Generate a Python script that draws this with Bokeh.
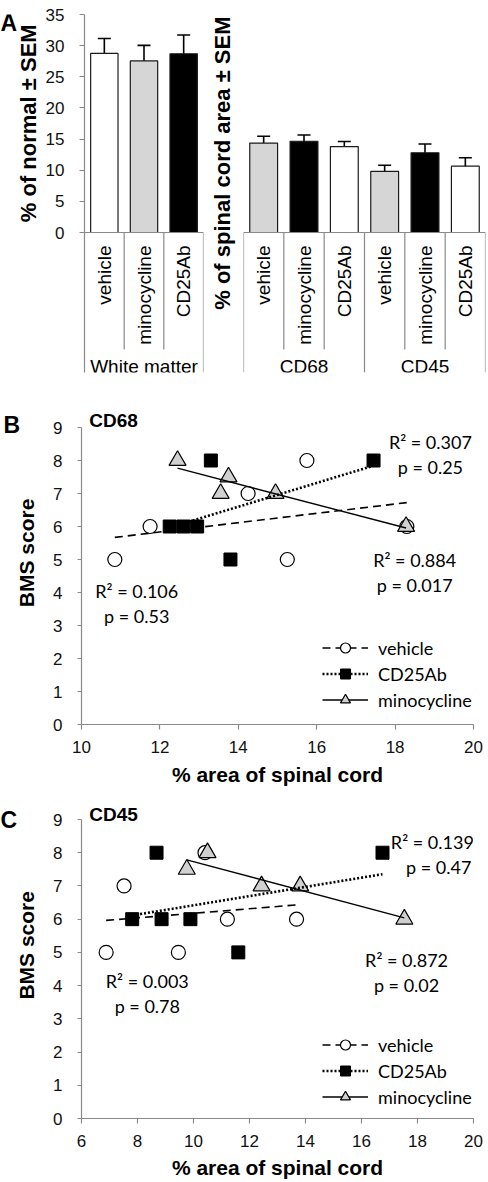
import numpy as np
from bokeh.plotting import figure
from bokeh.models import (ColumnDataSource, FactorRange, Range1d, Whisker, TeeHead,
                          Span, Label, FixedTicker, Legend, LegendItem)
from bokeh.layouts import column, row
from bokeh.embed import file_html
from bokeh.resources import INLINE
from bokeh.core.properties import value

# ---------------- data ----------------
treatments = ["vehicle", "minocycline", "CD25Ab"]
wm_group = "White matter"
wm_mean = [28.75, 27.55, 28.7]
wm_sem = [2.4, 2.5, 3.0]

area_groups = ["CD68", "CD45"]
area_mean = [14.35, 14.65, 13.8, 9.8, 12.8, 10.65]
area_sem = [1.1, 1.0, 0.8, 1.0, 1.4, 1.35]

# Panel B (CD68)
cd68_vehicle_x = [10.85, 11.75, 14.25, 15.25, 15.75, 18.3]
cd68_vehicle_y = [5, 6, 7, 5, 8, 6]
cd68_cd25_x = [12.25, 12.6, 12.95, 13.3, 13.8, 17.45]
cd68_cd25_y = [6, 6, 6, 8, 5, 8]
cd68_mino_x = [12.45, 13.55, 13.75, 14.95, 18.28]
cd68_mino_y = [8, 7, 7.5, 7, 6]
cd68_vehicle_stats = ["R² = 0.106", "p = 0.53"]
cd68_cd25_stats = ["R² = 0.307", "p = 0.25"]
cd68_mino_stats = ["R² = 0.884", "p = 0.017"]

# Panel C (CD45)
cd45_vehicle_x = [6.88, 7.52, 9.46, 10.41, 11.21, 13.68]
cd45_vehicle_y = [5, 7, 5, 8, 6, 6]
cd45_cd25_x = [7.81, 8.68, 8.86, 9.89, 11.6, 16.75]
cd45_cd25_y = [6, 8, 6, 6, 5, 8]
cd45_mino_x = [9.76, 10.5, 12.43, 13.81, 17.53]
cd45_mino_y = [7.5, 8, 7, 7, 6]
cd45_vehicle_stats = ["R² = 0.003", "p = 0.78"]
cd45_cd25_stats = ["R² = 0.139", "p = 0.47"]
cd45_mino_stats = ["R² = 0.872", "p = 0.02"]

series_names = ["vehicle", "CD25Ab", "minocycline"]

# ---------------- style ----------------
ARIAL = "Liberation Sans"
CALIBRI = "Lato"
AXIS_GRAY = "#898989"
LIGHT = "#d6d6d6"
EDGE = "#1a1a1a"
TICK_FONT = "17px"


def base_style(p):
    p.outline_line_color = None
    p.grid.visible = False
    p.background_fill_color = "white"
    p.border_fill_color = "white"


def style_axis(ax, tick_out, standoff):
    ax.axis_line_color = AXIS_GRAY
    ax.axis_line_width = 1.2
    ax.major_tick_line_color = AXIS_GRAY
    ax.major_tick_line_width = 1.2
    ax.minor_tick_line_color = None
    ax.major_tick_out = tick_out
    ax.major_tick_in = 0
    ax.major_label_standoff = standoff
    ax.major_label_text_font = ARIAL
    ax.major_label_text_font_size = TICK_FONT
    ax.major_label_text_color = "#111111"


def text_strip(width, height, texts):
    """A blank figure whose frame is its whole canvas, holding free text."""
    p = figure(width=width, height=height, x_range=Range1d(0, width),
               y_range=Range1d(height, 0), x_axis_location=None, y_axis_location=None,
               toolbar_location=None, output_backend="svg", title=None, min_border=0)
    base_style(p)
    for t in texts:
        p.add_layout(Label(**t))
    return p


def bold(text, x, y, size, angle=0.0, align="center"):
    return dict(x=x, y=y, text=text, angle=angle, text_font=ARIAL, text_font_style="bold",
                text_font_size=size, text_align=align, text_baseline="middle",
                text_color="black")


# ---------------- Panel A ----------------
A_HEIGHT = 395
A_TOP, A_ZERO, A_BOTTOM, A_INNER = 14, 232, 372, 349   # pixel rows of 35, 0, box bottom
Y_TOP = 35
PXU = (A_ZERO - A_TOP) / Y_TOP
Y_BOTTOM = -(A_BOTTOM - A_ZERO) / PXU
INNER_BOTTOM = -(A_INNER - A_ZERO) / PXU


def bar_panel(groups, means, sems, colors, width, min_left, min_right, show_axis):
    factors = [(g, t) for g in groups for t in treatments]
    xr = FactorRange(factors=factors, factor_padding=0, group_padding=0,
                     subgroup_padding=0, range_padding=0)
    p = figure(width=width, height=A_HEIGHT, x_range=xr, y_range=Range1d(Y_BOTTOM, Y_TOP),
               x_axis_location=None, y_axis_location="left" if show_axis else None,
               toolbar_location=None, output_backend="svg", title=None,
               min_border_left=min_left, min_border_right=min_right,
               min_border_top=A_TOP, min_border_bottom=A_HEIGHT - A_BOTTOM)
    base_style(p)
    src = ColumnDataSource(dict(
        x=factors, top=means,
        upper=[m + s for m, s in zip(means, sems)],
        lower=[m - s for m, s in zip(means, sems)],
        color=colors, label=[t for g in groups for t in treatments]))
    p.vbar(x="x", top="top", width=0.69, source=src, fill_color="color",
           line_color=EDGE, line_width=1.2)
    p.add_layout(Whisker(source=src, base="x", upper="upper", lower="lower",
                         line_color="black", line_width=1.6,
                         upper_head=TeeHead(size=13, line_color="black", line_width=1.6),
                         lower_head=TeeHead(size=13, line_color="black", line_width=1.6)))
    p.add_layout(Span(location=0, dimension="width", line_color=AXIS_GRAY, line_width=1.2))
    n = len(factors)
    bounds = list(range(n + 1))
    outer = [b for b in bounds if b % 3 == 0 and (b != 0 or not show_axis)]
    inner = [b for b in bounds if b % 3 != 0]
    p.segment(x0=outer, x1=outer, y0=[0] * len(outer), y1=[Y_BOTTOM] * len(outer),
              line_color=AXIS_GRAY, line_width=1.2)
    p.segment(x0=inner, x1=inner, y0=[0] * len(inner), y1=[INNER_BOTTOM] * len(inner),
              line_color=AXIS_GRAY, line_width=1.2)
    p.text(x="x", y=0, text="label", source=src, angle=np.pi / 2, y_offset=13,
           text_align="right", text_baseline="middle", text_font=value(ARIAL),
           text_font_size="19px", text_color="black")
    p.text(x=groups, y=[0] * len(groups), text=groups, y_offset=134,
           text_align="center", text_baseline="middle", text_font=value(ARIAL),
           text_font_size="19px", text_color="black")
    if show_axis:
        style_axis(p.yaxis[0], 5, 15)
        p.yaxis.ticker = FixedTicker(ticks=list(range(0, 36, 5)))
    return p


ta_left = text_strip(42, A_HEIGHT, [
    bold("A", 0, 9, "23px", align="left"),
    bold("% of normal ± SEM", 28, 120, "22px", angle=np.pi / 2),
])
a1 = bar_panel([wm_group], wm_mean, wm_sem, ["white", LIGHT, "black"],
               width=163, min_left=40, min_right=2, show_axis=True)
ta_mid = text_strip(38, A_HEIGHT, [
    bold("% of spinal cord area ± SEM", 17, 164, "22px", angle=np.pi / 2),
])
a2 = bar_panel(area_groups, area_mean, area_sem,
               [LIGHT, "black", "white", LIGHT, "black", "white"],
               width=245, min_left=0, min_right=3, show_axis=False)


# ---------------- Panels B & C ----------------
MAIN_W = 443


def scatter_panel(height, frame_top, y9_px, y0_px, x_start, x_end, data, stats,
                  stat_pos, title, title_pos, legend_y, tick_standoff, label_standoff):
    pxu = (y0_px - y9_px) / 9.0
    y_end = 9 + (y9_px - frame_top) / pxu
    p = figure(width=MAIN_W, height=height, x_range=Range1d(x_start, x_end),
               y_range=Range1d(0, y_end), toolbar_location=None, output_backend="svg",
               title=None, min_border_left=36, min_border_right=15,
               min_border_top=frame_top, min_border_bottom=height - y0_px)
    base_style(p)
    style_axis(p.xaxis[0], 5, tick_standoff)
    style_axis(p.yaxis[0], 4, 15)
    p.xaxis.ticker = FixedTicker(ticks=list(range(x_start, x_end + 1, 2)))
    p.yaxis.ticker = FixedTicker(ticks=list(range(0, 10)))
    p.yaxis.bounds = (0, 9)
    ax = p.xaxis[0]
    ax.axis_label = "% area of spinal cord"
    ax.axis_label_text_font = ARIAL
    ax.axis_label_text_font_style = "bold"
    ax.axis_label_text_font_size = "21px"
    ax.axis_label_text_color = "black"
    ax.axis_label_standoff = label_standoff

    marker_styles = [
        dict(marker="circle", size=14, fill_color="white", line_color="black", line_width=1.2),
        dict(marker="square", size=13, fill_color="black", line_color="black", line_width=1),
        dict(marker="triangle", size=17, fill_color="#d0d0d0", line_color="black", line_width=1.2),
    ]
    line_styles = [
        dict(line_dash="8 5", line_width=1.6, line_color="black"),
        dict(line_dash="2 2", line_width=2.6, line_color="black"),
        dict(line_width=1.4, line_color="black"),
    ]
    scatters = []
    for (xs, ys), ms in zip(data, marker_styles):
        scatters.append(p.scatter(xs, ys, **ms))
    lines = []
    for (xs, ys), ls in zip(data, line_styles):
        slope, intercept = np.polyfit(xs, ys, 1)
        fx = np.array([min(xs), max(xs)])
        lines.append(p.line(fx, slope * fx + intercept, **ls))
    legend = Legend(items=[LegendItem(label=n, renderers=[l, s])
                           for n, l, s in zip(series_names, lines, scatters)],
                    location=(241, legend_y), glyph_width=46, glyph_height=25,
                    label_height=20, spacing=1, padding=0, margin=0, label_standoff=10,
                    border_line_color=None, background_fill_alpha=0,
                    label_text_font=CALIBRI, label_text_font_size="18px",
                    label_text_color="black")
    p.add_layout(legend)
    for (r2, pv), (r2_pos, p_pos) in zip(stats, stat_pos):
        for txt, (sx, sy) in ((r2, r2_pos), (pv, p_pos)):
            p.add_layout(Label(x=sx, y=sy, text=txt, text_font=CALIBRI,
                               text_font_size="18px", text_align="center",
                               text_baseline="middle", text_color="black"))
    p.add_layout(Label(x=title_pos[0], y=title_pos[1], text=title, text_font=ARIAL,
                       text_font_style="bold", text_font_size="19px",
                       text_align="left", text_baseline="middle", text_color="black"))
    return p


tb_left = text_strip(45, 395, [
    bold("B", 3, 24, "23px", align="left"),
    bold("BMS score", 26, 182.5, "21px", angle=np.pi / 2),
])
pb = scatter_panel(
    395, 10, 32, 329, 10, 20,
    [(cd68_vehicle_x, cd68_vehicle_y), (cd68_cd25_x, cd68_cd25_y), (cd68_mino_x, cd68_mino_y)],
    [cd68_vehicle_stats, cd68_cd25_stats, cd68_mino_stats],
    [((11.41, 4.04), (11.41, 3.29)), ((18.9, 8.55), (18.9, 7.8)), ((18.5, 4.97), (18.5, 4.22))],
    "CD68", (10.2, 9.21), 12, 11, 7)

tc_left = text_strip(45, 392, [
    bold("C", 0, 24.5, "23px", align="left"),
    bold("BMS score", 26, 178.5, "21px", angle=np.pi / 2),
])
pc = scatter_panel(
    392, 10, 29, 328, 6, 20,
    [(cd45_vehicle_x, cd45_vehicle_y), (cd45_cd25_x, cd45_cd25_y), (cd45_mino_x, cd45_mino_y)],
    [cd45_vehicle_stats, cd45_cd25_stats, cd45_mino_stats],
    [((8.35, 4.14), (8.35, 3.39)), ((18.53, 8.32), (18.76, 7.57)), ((17.61, 4.76), (17.61, 4.01))],
    "CD45", (6.275, 9.15), 9, 11, 6)

layout = column(row(ta_left, a1, ta_mid, a2), row(tb_left, pb), row(tc_left, pc))
open("out.html", "w").write(file_html(layout, INLINE))
